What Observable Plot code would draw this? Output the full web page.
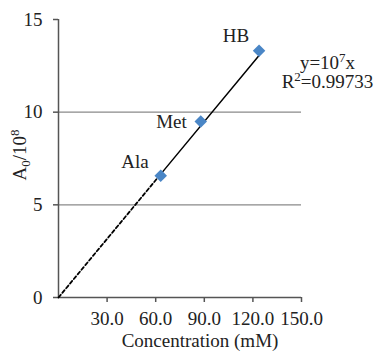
<!DOCTYPE html>
<html>
<head>
<meta charset="utf-8">
<script src="https://cdn.jsdelivr.net/npm/d3@7"></script>
<script src="https://cdn.jsdelivr.net/npm/@observablehq/plot@0.6"></script>
<style>
  html, body { margin: 0; padding: 0; background: white; }
</style>
</head>
<body>
<div id="chart"></div>
<script>
// Data
const names = ["Ala", "Met", "HB"];
const concentration = [63.1, 87.8, 123.8];   // mM
const a0 = [6.57, 9.50, 13.31];              // A0 / 10^8
const xTicks = [30, 60, 90, 120, 150];
const yTicks = [0, 5, 10, 15];
const gridLines = [5, 10];
const fitSlope = 0.1055;                     // drawn trend line y = 10^7 x
const dashedRange = [0, 63.1];
const solidRange = [63.1, 123.8];
// rich texts: [text, script] where script is "", "sup" or "sub"
const equationLine1 = [["y=10", ""], ["7", "sup"], ["x", ""]];
const equationLine2 = [["R", ""], ["2", "sup"], ["=0.99733", ""]];
const yLabelParts = [["A", ""], ["0", "sub"], ["/10", ""], ["8", "sup"]];
const xLabel = "Concentration (mM)";

const points = names.map((n, i) => ({name: n, x: concentration[i], y: a0[i]}));
const dashed = dashedRange.map(x => ({x, y: fitSlope * x}));
const solid = solidRange.map(x => ({x, y: fitSlope * x}));
const plain = parts => parts.map(p => p[0]).join("");

const font = "'Liberation Serif', 'Times New Roman', serif";
const axisColor = "#555";
const ink = "#222";
const chart = Plot.plot({
  width: 374,
  height: 356,
  marginLeft: 58,
  marginRight: 73,
  marginTop: 19,
  marginBottom: 59,
  style: {fontFamily: font, fontSize: "19px", color: ink, background: "white", overflow: "visible"},
  x: {domain: [0, 150]},
  y: {domain: [0, 15]},
  marks: [
    Plot.ruleY(gridLines, {stroke: "#8a8a8a", strokeWidth: 1.2}),
    Plot.axisX({ticks: xTicks, tickFormat: d => d.toFixed(1), tickSize: 5, tickPadding: 9, stroke: axisColor, strokeWidth: 1.5, label: null, fontFamily: font, fill: ink}),
    Plot.axisY({ticks: yTicks, tickSize: 5, tickPadding: 11, stroke: axisColor, strokeWidth: 1.5, label: null, fontFamily: font, fill: ink}),
    Plot.ruleX([0], {stroke: axisColor, strokeWidth: 1.5}),
    Plot.ruleY([0], {stroke: axisColor, strokeWidth: 1.5}),
    Plot.line(dashed, {x: "x", y: "y", stroke: "black", strokeWidth: 1.8, strokeDasharray: "3.5,2.5"}),
    Plot.line(solid, {x: "x", y: "y", stroke: "black", strokeWidth: 1.5}),
    Plot.dot(points, {x: "x", y: "y", symbol: "square", rotate: 45, r: 5, fill: "#4a86c6", stroke: "none"}),
    Plot.text(points.filter(d => d.name === "HB"), {x: "x", y: "y", text: "name", dx: -23, dy: -15, fill: ink}),
    Plot.text(points.filter(d => d.name === "Met"), {x: "x", y: "y", text: "name", dx: -14, dy: 0, textAnchor: "end", fill: ink}),
    Plot.text(points.filter(d => d.name === "Ala"), {x: "x", y: "y", text: "name", dx: -12, dy: -14, textAnchor: "end", fill: ink}),
    Plot.text([plain(equationLine1)], {frameAnchor: "top-right", dx: 26, dy: 36, textAnchor: "middle", fill: ink, className: "eq1"}),
    Plot.text([plain(equationLine2)], {frameAnchor: "top-right", dx: 26, dy: 55, textAnchor: "middle", fill: ink, className: "eq2"}),
    Plot.text([plain(yLabelParts)], {frameAnchor: "left", dx: -39, dy: 22, rotate: -90, fill: ink, className: "ylab"}),
    Plot.text([xLabel], {frameAnchor: "bottom", dx: 20, dy: 49, fill: ink})
  ]
});

// turn plain strings into super/subscript tspans
function enrich(cls, parts) {
  const t = chart.querySelector("g." + cls + " text");
  if (!t) return;
  while (t.firstChild) t.removeChild(t.firstChild);
  let shift = 0;
  for (const [s, kind] of parts) {
    const ts = document.createElementNS("http://www.w3.org/2000/svg", "tspan");
    const target = kind === "sup" ? -7 : kind === "sub" ? 4 : 0;
    if (target !== shift) ts.setAttribute("dy", target - shift);
    shift = target;
    if (kind) ts.setAttribute("font-size", "13px");
    ts.textContent = s;
    t.appendChild(ts);
  }
}
enrich("eq1", equationLine1);
enrich("eq2", equationLine2);
enrich("ylab", yLabelParts);

document.getElementById("chart").appendChild(chart);
</script>
</body>
</html>
